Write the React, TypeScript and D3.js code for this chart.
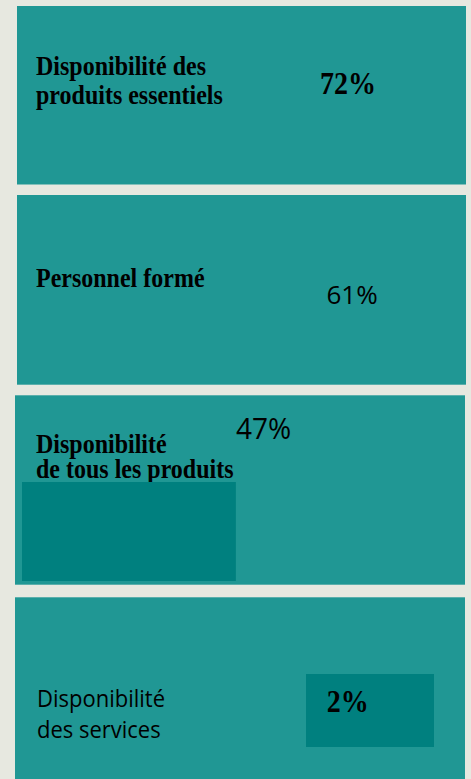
import React, { useEffect } from "react";
import * as d3 from "d3";

// ---- data ----
const categories = [
  "Disponibilité des produits essentiels",
  "Personnel formé",
  "Disponibilité de tous les produits",
  "Disponibilité des services",
];
const values = [72, 61, 47, 2];
const labelLines = [
  ["Disponibilité des", "produits essentiels"],
  ["Personnel formé"],
  ["Disponibilité", "de tous les produits"],
  ["Disponibilité", "des services"],
];

// ---- layout / style ----
const W = 471;
const H = 779;
const BG = "#e7e8e0";
const PANEL = "#209794";
const DARK = "#00807f";
const SERIF = "'Liberation Serif', 'Times New Roman', serif";
const SANS = "'Open Sans', 'Noto Sans', sans-serif";

const panels = [
  { x: 17, y: 6, w: 449, h: 178.5 },
  { x: 17, y: 195, w: 449, h: 189.7 },
  { x: 15, y: 395.3, w: 450, h: 189.4 },
  { x: 15, y: 597.3, w: 450, h: 200 },
];
const labelStyle = [
  { font: SERIF, weight: 700, size: 24, sy: 1.1, x: 36, y: [75, 104] },
  { font: SERIF, weight: 700, size: 24, sy: 1.1, x: 36, y: [286.7] },
  { font: SERIF, weight: 700, size: 24, sy: 1.1, x: 36, y: [452.7, 478.3] },
  { font: SANS, weight: 400, size: 22, sy: 1.06, x: 37, y: [706.7, 738.3] },
];
const valueStyle = [
  { font: SERIF, weight: 700, size: 28, sy: 1.1, x: 320, y: 94.3 },
  { font: SANS, weight: 400, size: 26, sy: 1.0, x: 326.5, y: 304 },
  { font: SANS, weight: 400, size: 28, sy: 1.03, x: 236, y: 439.3 },
  { font: SERIF, weight: 700, size: 28, sy: 1.1, x: 326.7, y: 712.3 },
];

// bar in panel 3 scaled by value, badge box in panel 4
const xPct = d3.scaleLinear().domain([0, 100]).range([0, 455]);

export default function App() {
  useEffect(() => {
    document.body.style.margin = "0";
    document.body.style.background = BG;
  }, []);

  return (
    <svg
      width={W}
      height={H}
      style={{ display: "block", position: "absolute", left: 0, top: 0 }}
    >
      <rect x={0} y={0} width={W} height={H} fill={BG} />
      {categories.map((c, i) => {
        const p = panels[i];
        const ls = labelStyle[i];
        const vs = valueStyle[i];
        return (
          <g key={c}>
            <rect x={p.x} y={p.y} width={p.w} height={p.h} fill={PANEL} />
            {labelLines[i].map((line, j) => (
              <text
                key={j}
                transform={`translate(${ls.x},${ls.y[j]}) scale(1,${ls.sy})`}
                fontFamily={ls.font}
                fontWeight={ls.weight}
                fontSize={ls.size}
                fill="#000"
              >
                {line}
              </text>
            ))}
            {i === 2 && (
              <rect x={22} y={482} width={xPct(values[i])} height={99} fill={DARK} />
            )}
            {i === 3 && <rect x={306} y={674} width={128} height={73} fill={DARK} />}
            <text
              transform={`translate(${vs.x},${vs.y}) scale(1,${vs.sy})`}
              fontFamily={vs.font}
              fontWeight={vs.weight}
              fontSize={vs.size}
              fill="#000"
            >
              {d3.format("d")(values[i]) + "%"}
            </text>
          </g>
        );
      })}
    </svg>
  );
}
